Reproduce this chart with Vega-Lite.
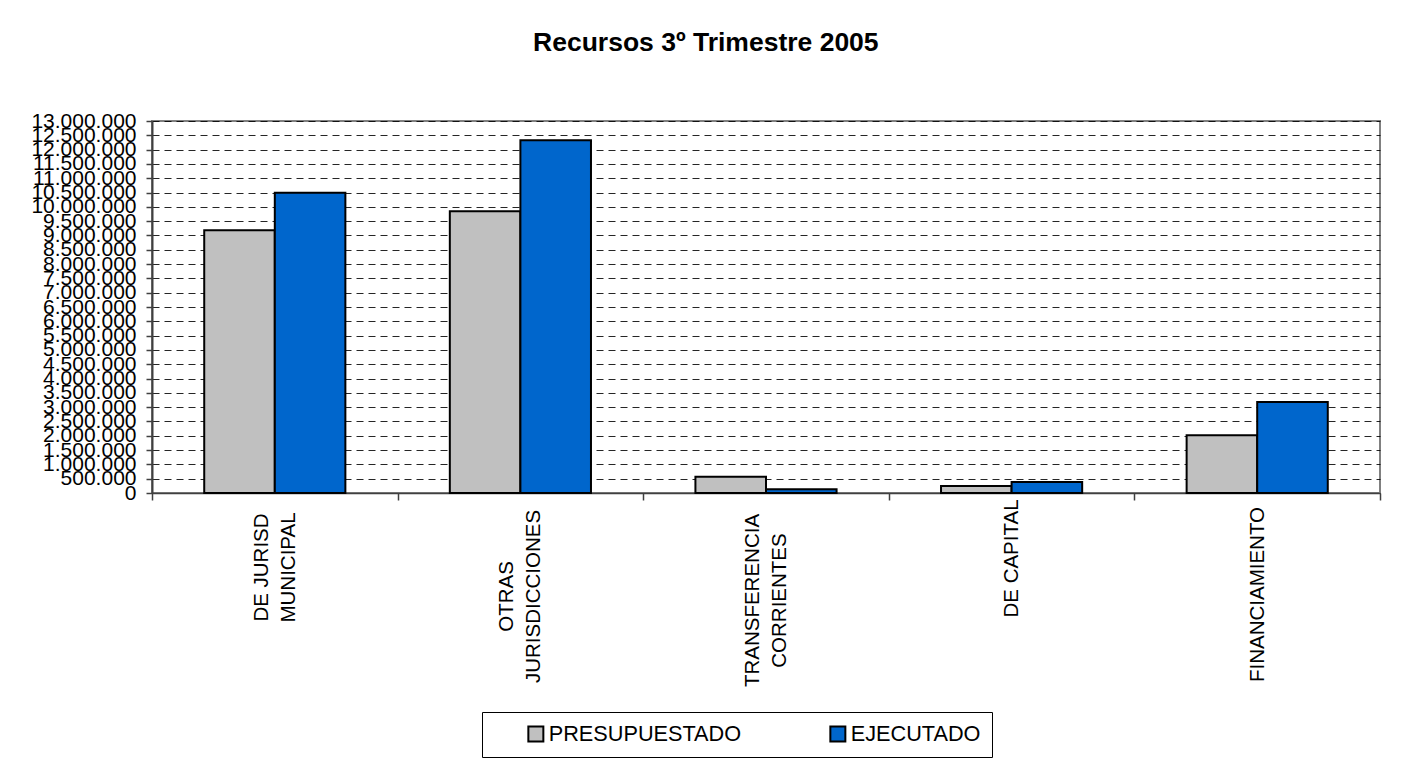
{
  "$schema": "https://vega.github.io/schema/vega-lite/v6.json",
  "autosize": "none",
  "width": 1228,
  "height": 372,
  "padding": {"left": 152, "top": 121, "right": 27, "bottom": 274},
  "background": "white",
  "title": {
    "text": "Recursos 3º Trimestre 2005",
    "fontSize": 26.5,
    "fontWeight": "bold",
    "font": "Liberation Sans",
    "color": "black",
    "anchor": "middle",
    "frame": "bounds",
    "offset": 54
  },
  "data": {
    "values": [
      {"categoria": "DE JURISD MUNICIPAL", "serie": "PRESUPUESTADO", "monto": 9180000},
      {"categoria": "DE JURISD MUNICIPAL", "serie": "EJECUTADO", "monto": 10490000},
      {"categoria": "OTRAS JURISDICCIONES", "serie": "PRESUPUESTADO", "monto": 9850000},
      {"categoria": "OTRAS JURISDICCIONES", "serie": "EJECUTADO", "monto": 12330000},
      {"categoria": "TRANSFERENCIA CORRIENTES", "serie": "PRESUPUESTADO", "monto": 570000},
      {"categoria": "TRANSFERENCIA CORRIENTES", "serie": "EJECUTADO", "monto": 130000},
      {"categoria": "DE CAPITAL", "serie": "PRESUPUESTADO", "monto": 245000},
      {"categoria": "DE CAPITAL", "serie": "EJECUTADO", "monto": 385000},
      {"categoria": "FINANCIAMIENTO", "serie": "PRESUPUESTADO", "monto": 2020000},
      {"categoria": "FINANCIAMIENTO", "serie": "EJECUTADO", "monto": 3180000}
    ]
  },
  "mark": {"type": "bar", "stroke": "black", "strokeWidth": 2},
  "encoding": {
    "x": {
      "field": "categoria",
      "type": "nominal",
      "sort": null,
      "title": null,
      "scale": {"paddingInner": 0, "paddingOuter": 0},
      "axis": {
        "labelAngle": 270,
        "labelAlign": "center",
        "labelBaseline": "middle",
        "labelFontSize": 20.5,
        "labelLineHeight": 27,
        "labelColor": "black",
        "labelPadding": {
          "condition": [
            {"test": "datum.value == 'DE JURISD MUNICIPAL'", "value": 67},
            {"test": "datum.value == 'OTRAS JURISDICCIONES'", "value": 96},
            {"test": "datum.value == 'TRANSFERENCIA CORRIENTES'", "value": 100},
            {"test": "datum.value == 'DE CAPITAL'", "value": 58}
          ],
          "value": 94
        },
        "labelOffset": {
          "condition": {"test": "datum.value == 'DE JURISD MUNICIPAL' || datum.value == 'OTRAS JURISDICCIONES' || datum.value == 'TRANSFERENCIA CORRIENTES'", "value": -13.5},
          "value": 0
        },
        "tickSize": 7,
        "tickColor": "#404040",
        "tickWidth": 1.5,
        "tickBand": "extent",
        "tickExtra": true,
        "domainColor": "#404040",
        "domainWidth": 1.5,
        "grid": false,
        "labelExpr": "datum.label == 'DE JURISD MUNICIPAL' ? ['DE JURISD', 'MUNICIPAL'] : datum.label == 'OTRAS JURISDICCIONES' ? ['OTRAS', 'JURISDICCIONES'] : datum.label == 'TRANSFERENCIA CORRIENTES' ? ['TRANSFERENCIA', 'CORRIENTES'] : datum.label"
      }
    },
    "xOffset": {
      "field": "serie",
      "type": "nominal",
      "sort": ["PRESUPUESTADO", "EJECUTADO"],
      "scale": {"paddingOuter": 0.74, "paddingInner": 0}
    },
    "y": {
      "field": "monto",
      "type": "quantitative",
      "title": null,
      "scale": {"domain": [0, 13000000], "nice": false},
      "axis": {
        "values": [0, 500000, 1000000, 1500000, 2000000, 2500000, 3000000, 3500000, 4000000, 4500000, 5000000, 5500000, 6000000, 6500000, 7000000, 7500000, 8000000, 8500000, 9000000, 9500000, 10000000, 10500000, 11000000, 11500000, 12000000, 12500000, 13000000],
        "labelExpr": "replace(format(datum.value, ','), regexp(',', 'g'), '.')",
        "labelFontSize": 21,
        "labelColor": "black",
        "labelOverlap": false,
        "labelFlush": false,
        "labelPadding": 10,
        "tickSize": 6,
        "tickColor": "#404040",
        "tickWidth": 1.5,
        "domainColor": "#404040",
        "domainWidth": 2,
        "grid": true,
        "gridColor": "#000000",
        "gridDash": [7, 5],
        "gridWidth": 1,
        "gridOpacity": 0.85
      }
    },
    "color": {
      "field": "serie",
      "type": "nominal",
      "scale": {"domain": ["PRESUPUESTADO", "EJECUTADO"], "range": ["#C0C0C0", "#0066CC"]},
      "legend": {
        "orient": "none",
        "legendX": 330,
        "legendY": 591,
        "direction": "horizontal",
        "columns": 2,
        "columnPadding": 84,
        "title": " ",
        "titleOrient": "left",
        "titleFontSize": 1,
        "titlePadding": 32,
        "padding": 11,
        "strokeColor": "black",
        "fillColor": "white",
        "symbolType": "square",
        "symbolSize": 225,
        "symbolStrokeColor": "black",
        "symbolStrokeWidth": 2,
        "symbolOpacity": 1,
        "labelFontSize": 21.7,
        "labelColor": "black",
        "labelOffset": 2,
        "labelLimit": 400
      }
    }
  },
  "config": {
    "font": "Liberation Sans",
    "view": {"stroke": "#808080", "strokeWidth": 2},
    "axis": {"labelFont": "Liberation Sans"},
    "legend": {"labelFont": "Liberation Sans"}
  }
}
